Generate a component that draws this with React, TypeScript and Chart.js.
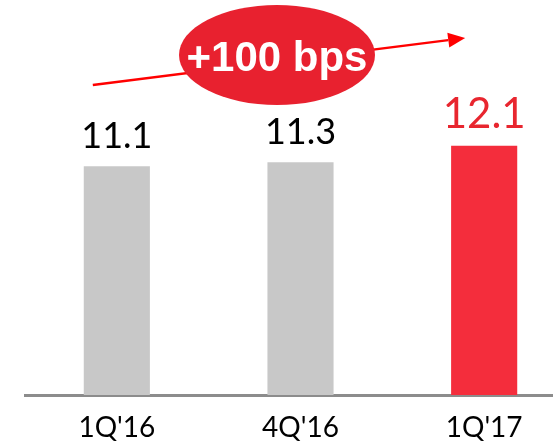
import React, { useEffect, useRef } from "react";
import { Chart, registerables } from "chart.js";

Chart.register(...registerables);

const categories = ["1Q'16", "4Q'16", "1Q'17"];
const values = [11.1, 11.3, 12.1];
const valueLabels = ["11.1", "11.3", "12.1"];
const highlightIndex = 2;
const changeLabel = "+100 bps";
const yMin = 0;
const yMax = 15;

const GRAY_BAR = "#c8c8c8";
const RED_BAR = "#f42d3c";
const RED_LABEL = "#e8262f";
const RED_BUBBLE = "#e8212f";
const RED_ARROW = "#ff0000";
const AXIS = "#8c8c8c";

const annotationPlugin = {
  id: "annotations",
  afterDatasetsDraw(chart: any) {
    const ctx = chart.ctx;
    const meta = chart.getDatasetMeta(0);
    ctx.save();
    ctx.textAlign = "center";
    ctx.textBaseline = "alphabetic";
    meta.data.forEach((bar: any, i: number) => {
      const hi = i === highlightIndex;
      ctx.fillStyle = hi ? RED_LABEL : "#000000";
      ctx.font = `${hi ? 42 : 36}px Lato`;
      ctx.fillText(valueLabels[i], bar.x, bar.y - 18);
    });

    // arrow
    const x0 = meta.data[0].x - 24;
    const x1 = meta.data[2].x - 19;
    const y0 = 85;
    const y1 = 38;
    const ang = Math.atan2(y1 - y0, x1 - x0);
    const headLen = 17;
    const headW = 7.5;
    const bx = x1 - headLen * Math.cos(ang);
    const by = y1 - headLen * Math.sin(ang);
    ctx.strokeStyle = RED_ARROW;
    ctx.lineWidth = 2.5;
    ctx.beginPath();
    ctx.moveTo(x0, y0);
    ctx.lineTo(bx, by);
    ctx.stroke();
    ctx.fillStyle = RED_ARROW;
    ctx.beginPath();
    ctx.moveTo(x1, y1);
    ctx.lineTo(bx + headW * Math.sin(ang), by - headW * Math.cos(ang));
    ctx.lineTo(bx - headW * Math.sin(ang), by + headW * Math.cos(ang));
    ctx.closePath();
    ctx.fill();

    // bubble
    const cx = 277;
    const cy = 55;
    ctx.fillStyle = RED_BUBBLE;
    ctx.beginPath();
    ctx.ellipse(cx, cy, 98, 50, 0, 0, Math.PI * 2);
    ctx.fill();
    ctx.fillStyle = "#ffffff";
    ctx.font = "bold 42px 'Liberation Sans'";
    ctx.textAlign = "center";
    ctx.textBaseline = "alphabetic";
    ctx.fillText(changeLabel, cx, 71);
    ctx.restore();
  },
};

export default function App() {
  const canvasRef = useRef<HTMLCanvasElement | null>(null);

  useEffect(() => {
    if (!canvasRef.current) return;
    const chart = new Chart(canvasRef.current, {
      type: "bar",
      data: {
        labels: categories,
        datasets: [
          {
            data: values,
            backgroundColor: values.map((_, i) => (i === highlightIndex ? RED_BAR : GRAY_BAR)),
            borderWidth: 0,
            barPercentage: 0.36,
            categoryPercentage: 1,
          },
        ],
      },
      options: {
        responsive: false,
        maintainAspectRatio: false,
        devicePixelRatio: 1,
        animation: false,
        layout: { padding: { top: 86, left: 25, right: 24, bottom: 0 } },
        plugins: {
          legend: { display: false },
          tooltip: { enabled: false },
          title: { display: false },
        },
        scales: {
          x: {
            type: "category",
            offset: true,
            grid: { display: false, drawTicks: false },
            border: { display: true, color: AXIS, width: 3 },
            ticks: {
              color: "#000000",
              font: { family: "Lato", size: 28 },
              padding: 16,
              maxRotation: 0,
            },
            afterFit: (scale: any) => {
              scale.height = 48;
            },
          },
          y: {
            display: false,
            min: yMin,
            max: yMax,
          },
        },
      },
      plugins: [annotationPlugin],
    });
    return () => chart.destroy();
  }, []);

  return (
    <div
      style={{
        position: "absolute",
        left: 0,
        top: 0,
        width: 553,
        height: 443,
        overflow: "hidden",
        background: "#ffffff",
      }}
    >
      <canvas ref={canvasRef} width={600} height={443} style={{ display: "block" }} />
    </div>
  );
}
